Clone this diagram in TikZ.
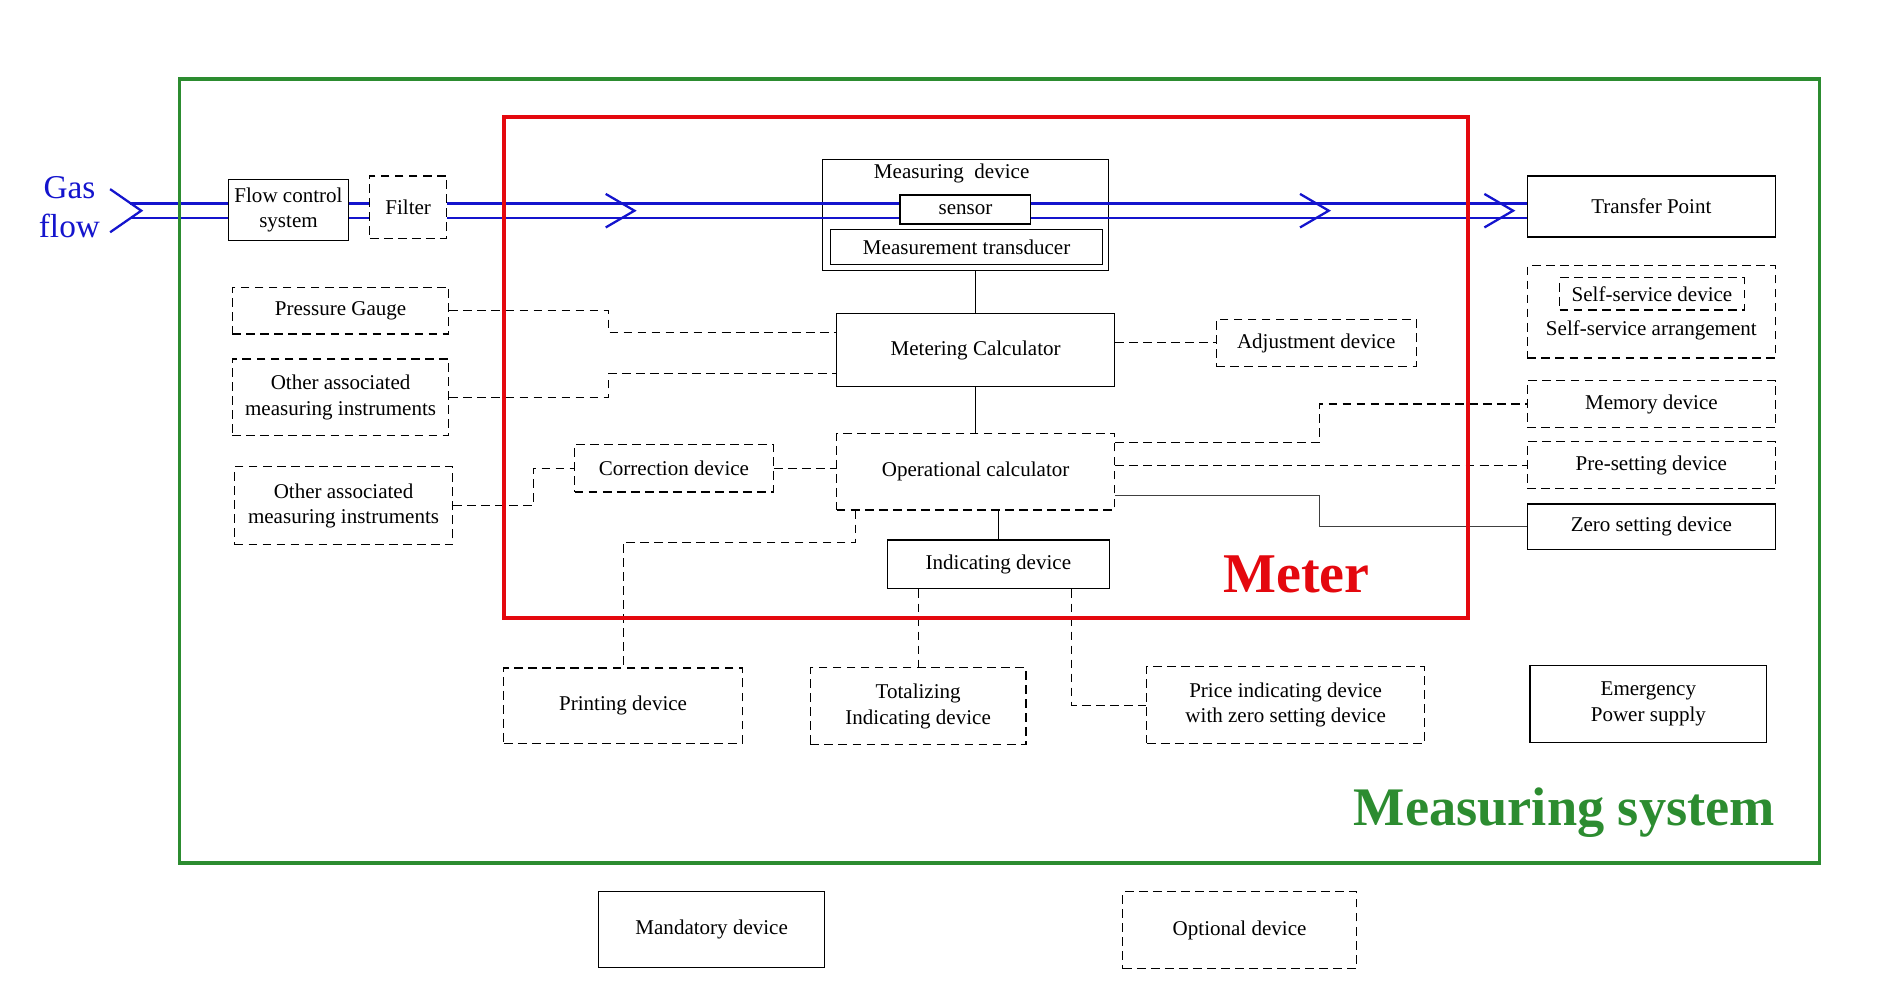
\documentclass[tikz,border=0pt]{standalone}
\usepackage{fontspec}
\setmainfont{Liberation Serif}
\usepackage{xcolor}
\definecolor{flowblue}{RGB}{20,20,205}
\definecolor{meterred}{RGB}{228,8,14}
\definecolor{sysgreen}{RGB}{44,140,48}

\begin{document}
\begin{tikzpicture}[x=0.024cm,y=-0.024cm,
  txt/.style={font=\fontsize{12}{14.5}\selectfont,inner sep=0pt,align=center},
  mand/.style={txt,draw,line width=0.7pt,fill=white},
  opt/.style={mand,dash pattern=on 5pt off 3pt},
  sline/.style={line width=0.6pt},
  dline/.style={line width=0.6pt,dash pattern=on 5pt off 3pt},
  zline/.style={line width=0.6pt,black!75},
  flow/.style={flowblue,line width=1.3pt},
]
\useasboundingbox (0,0) rectangle (1568,831);

\node[text=flowblue,font=\fontsize{19}{22}\selectfont,align=center] (gas) at (58,173) {Gas\\flow};

\node[mand,minimum width=2.40cm,minimum height=1.22cm] (fcs) at (241,175.5) {Flow control\\system};
\node[opt,minimum width=1.54cm,minimum height=1.25cm] (filter) at (341,173) {Filter};
\node[mand,minimum width=5.74cm,minimum height=2.23cm] (md) at (806.5,179.5) {};
\node[txt] (mdt) at (795,145) {Measuring\ \ device};
\node[mand,minimum width=2.62cm,minimum height=0.58cm] (sensor) at (806.5,175) {sensor};
\node[mand,minimum width=5.45cm,minimum height=0.70cm] (trans) at (807.5,206.5) {Measurement transducer};
\node[mand,minimum width=4.97cm,minimum height=1.22cm] (tp) at (1379.5,172.5) {Transfer Point};

\node[opt,minimum width=4.34cm,minimum height=0.94cm] (pg) at (284.5,259.5) {Pressure Gauge};
\node[opt,minimum width=4.34cm,minimum height=1.54cm] (oami1) at (284.5,332) {Other associated\\measuring instruments};
\node[mand,minimum width=5.57cm,minimum height=1.46cm] (mcalc) at (815,292.5) {Metering Calculator};
\node[opt,minimum width=4.01cm,minimum height=0.94cm] (adj) at (1099.5,286.5) {Adjustment device};

\node[opt,minimum width=4.97cm,minimum height=1.85cm] (ssa) at (1379.5,260.5) {};
\node[opt,minimum width=3.70cm,minimum height=0.65cm] (ssd) at (1380,245.5) {Self-service device};
\node[txt] (ssat) at (1379.5,276) {Self-service arrangement};
\node[opt,minimum width=4.97cm,minimum height=0.94cm] (mem) at (1379.5,337.5) {Memory device};
\node[opt,minimum width=4.97cm,minimum height=0.94cm] (pre) at (1379.5,388.5) {Pre-setting device};
\node[mand,minimum width=4.97cm,minimum height=0.91cm] (zero) at (1379.5,440) {Zero setting device};

\node[opt,minimum width=3.98cm,minimum height=0.96cm] (corr) at (563,391) {Correction device};
\node[opt,minimum width=4.37cm,minimum height=1.56cm] (oami2) at (287,422.5) {Other associated\\measuring instruments};
\node[opt,minimum width=5.57cm,minimum height=1.54cm] (opc) at (815,394) {Operational calculator};
\node[mand,minimum width=4.46cm,minimum height=0.98cm] (ind) at (834,471.5) {Indicating device};

\node[opt,minimum width=4.78cm,minimum height=1.51cm] (prt) at (520.5,589.5) {Printing device};
\node[opt,minimum width=4.32cm,minimum height=1.54cm] (tot) at (767,590) {Totalizing\\Indicating device};
\node[opt,minimum width=5.57cm,minimum height=1.54cm] (price) at (1074,589) {Price indicating device\\with zero setting device};
\node[mand,minimum width=4.75cm,minimum height=1.54cm] (eps) at (1377,588) {Emergency\\Power supply};

\node[text=meterred,font=\fontsize{32}{36}\selectfont\bfseries] (meter) at (1083,480) {Meter};
\node[anchor=east,inner sep=0pt,text=sysgreen,font=\fontsize{31}{36}\selectfont\bfseries] (msys) at (1483,679) {Measuring system};

\node[mand,minimum width=4.54cm,minimum height=1.51cm] (mandl) at (594.5,776.5) {Mandatory device};
\node[opt,minimum width=4.68cm,minimum height=1.54cm] (optl) at (1035.5,777) {Optional device};

% gas flow
\coordinate (fu) at (0,170);
\coordinate (fl) at (0,182);
\coordinate (tail) at (109,176);
\draw[flow] (92,158) -- (118,176) -- (92,194);
\foreach \l in {fu,fl} {
  \draw[flow] (tail |- \l) -- (fcs.west |- \l);
  \draw[flow] (fcs.east |- \l) -- (filter.west |- \l);
  \draw[flow] (filter.east |- \l) -- (sensor.west |- \l);
  \draw[flow] (sensor.east |- \l) -- (tp.west |- \l);
}
\foreach \t in {530,1110,1264}
  \draw[flow] (\t-24,162) -- (\t,176) -- (\t-24,190);

% connections
\draw[sline] (mcalc.north) -- (mcalc.north |- md.south);
\draw[sline] (mcalc.south) -- (opc.north);
\draw[sline] (opc.south -| ind.north) -- (ind.north);
\draw[dline] (pg.east) -- ++(133,0) |- (mcalc.west |- 0,278);
\draw[dline] (oami1.east) -- ++(133,0) |- (mcalc.west |- 0,312);
\draw[dline] (mcalc.east |- adj.west) -- (adj.west);
\draw[dline] (oami2.east) -- ++(67,0) |- (corr.west);
\draw[dline] (corr.east) -- (opc.west |- corr.east);
\draw[dline] (opc.east |- 0,370) -- (1102,370) |- (mem.west);
\draw[dline] (opc.east |- pre.west) -- (pre.west);
\draw[zline] (opc.east |- 0,414) -- (1102,414) |- (zero.west);
\draw[dline] (opc.south -| 715,0) |- (prt.north |- 0,453) -- (prt.north);
\draw[dline] (ind.south -| tot.north) -- (tot.north);
\draw[dline] (ind.south -| 895,0) |- (price.west);

% frames
\draw[sysgreen,line width=2.2pt] (150,66) rectangle (1520,721);
\draw[meterred,line width=2.2pt] (421,98) rectangle (1226,516);
\end{tikzpicture}
\end{document}
